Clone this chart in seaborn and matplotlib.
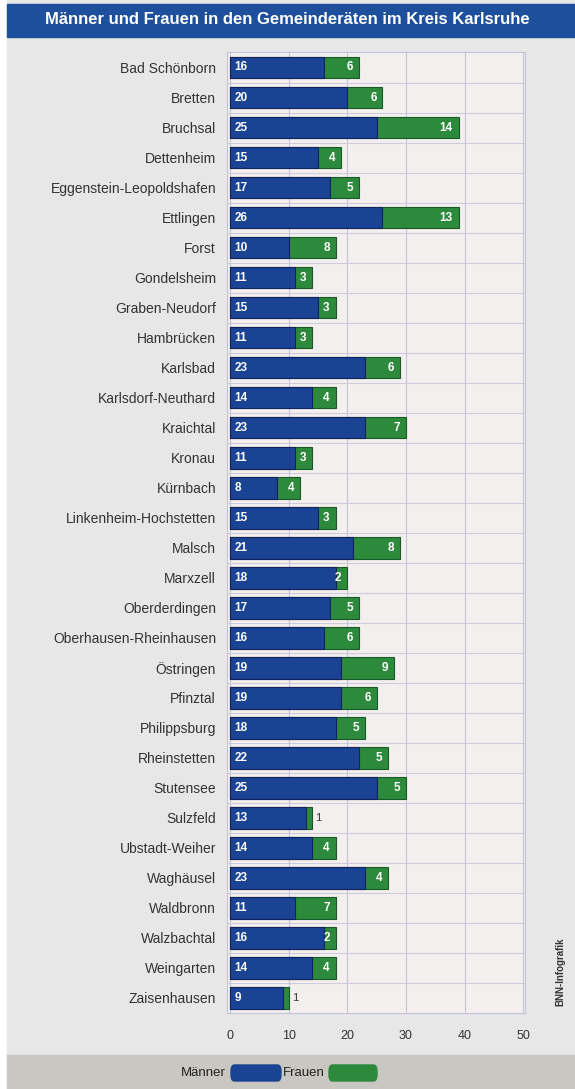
import pandas as pd
import seaborn as sns
import matplotlib.pyplot as plt
from matplotlib.patches import Rectangle, FancyBboxPatch

# data
gemeinden = ["Bad Schönborn", "Bretten", "Bruchsal", "Dettenheim", "Eggenstein-Leopoldshafen",
             "Ettlingen", "Forst", "Gondelsheim", "Graben-Neudorf", "Hambrücken", "Karlsbad",
             "Karlsdorf-Neuthard", "Kraichtal", "Kronau", "Kürnbach", "Linkenheim-Hochstetten",
             "Malsch", "Marxzell", "Oberderdingen", "Oberhausen-Rheinhausen", "Östringen",
             "Pfinztal", "Philippsburg", "Rheinstetten", "Stutensee", "Sulzfeld",
             "Ubstadt-Weiher", "Waghäusel", "Waldbronn", "Walzbachtal", "Weingarten", "Zaisenhausen"]
maenner = [16, 20, 25, 15, 17, 26, 10, 11, 15, 11, 23, 14, 23, 11, 8, 15,
           21, 18, 17, 16, 19, 19, 18, 22, 25, 13, 14, 23, 11, 16, 14, 9]
frauen = [6, 6, 14, 4, 5, 13, 8, 3, 3, 3, 6, 4, 7, 3, 4, 3,
          8, 2, 5, 6, 9, 6, 5, 5, 5, 1, 4, 4, 7, 2, 4, 1]
x_ticks = [0, 10, 20, 30, 40, 50]

df = pd.DataFrame({"Gemeinde": gemeinden, "Männer": maenner, "Frauen": frauen})
df["Gesamt"] = df["Männer"] + df["Frauen"]

blau = "#1b4393"
gruen = "#2d8a3c"

sns.set_style("white")
plt.rcParams["font.family"] = ["Liberation Sans Narrow", "Liberation Sans", "DejaVu Sans"]

fig = plt.figure(figsize=(5.75, 10.89), dpi=100, facecolor="white")
# background panels
fig.patches.append(Rectangle((7/575, 0), 1, 1, transform=fig.transFigure, color="#e7e7e7", zorder=-10))
fig.patches.append(Rectangle((7/575, 1 - 37/1089), 1, 33/1089, transform=fig.transFigure,
                             color="#1d4f9c", zorder=-5))
fig.patches.append(Rectangle((7/575, 0), 1, 34/1089, transform=fig.transFigure,
                             color="#c9c7c1", zorder=-5))
fig.text(0.5, 1 - 20/1089, "Männer und Frauen in den Gemeinderäten im Kreis Karlsruhe",
         color="white", fontsize=12, fontweight="bold", ha="center", va="center")

ax = fig.add_axes([0.395, 0.0698, 0.518, 0.882])
ax.set_facecolor("#f4efef")

sns.barplot(data=df, y="Gemeinde", x="Gesamt", color=gruen, saturation=1,
            width=0.72, orient="h", ax=ax, zorder=3)
sns.barplot(data=df, y="Gemeinde", x="Männer", color=blau, saturation=1,
            width=0.72, orient="h", ax=ax, zorder=4)
for p in ax.patches:
    p.set_edgecolor("#12225f" if p.get_facecolor()[2] > 0.4 else "#175a25")
    p.set_linewidth(0.8)

for i, row in df.iterrows():
    ax.text(0.8, i, str(row["Männer"]), color="white", fontsize=8.5, fontweight="bold",
            va="center", ha="left", zorder=6)
    if row["Frauen"] > 1:
        ax.text(row["Gesamt"] - 1.0, i, str(row["Frauen"]), color="white", fontsize=8.5,
                fontweight="bold", va="center", ha="right", zorder=6)
    else:
        ax.text(row["Gesamt"] + 0.5, i, str(row["Frauen"]), color="#333333", fontsize=8,
                va="center", ha="left", zorder=6)

ax.set_xlim(-0.5, 50.3)
ax.set_ylim(len(df) - 0.5, -0.5)
ax.set_xticks(x_ticks)
ax.set_xticklabels([str(t) for t in x_ticks], fontsize=9, color="#333333")
ax.set_yticks(range(len(df)))
ax.set_yticklabels(gemeinden, fontsize=10, color="#333333")
ax.set_yticks([i + 0.5 for i in range(len(df) - 1)], minor=True)
ax.tick_params(axis="both", length=0, pad=8)
ax.tick_params(axis="x", pad=12)
ax.grid(axis="y", which="minor", color="#cfcbdc", linewidth=0.8, zorder=0)
ax.grid(axis="x", which="major", color="#c4c2d6", linewidth=0.8, zorder=0)
ax.set_axisbelow(True)
ax.set_xlabel("")
ax.set_ylabel("")
for s in ax.spines.values():
    s.set_color("#c4c2d6")
    s.set_linewidth(0.8)

# legend at the bottom band
fig.text(226/575, 1 - 1073/1089, "Männer", fontsize=9.5, color="#222222", ha="right", va="center")
fig.patches.append(FancyBboxPatch((231/575, 1 - 1081/1089), 50/575, 16/1089,
                                  boxstyle="round,pad=0.0,rounding_size=0.006",
                                  transform=fig.transFigure, color=blau, zorder=5))
fig.text(325/575, 1 - 1073/1089, "Frauen", fontsize=9.5, color="#222222", ha="right", va="center")
fig.patches.append(FancyBboxPatch((329/575, 1 - 1081/1089), 48/575, 16/1089,
                                  boxstyle="round,pad=0.0,rounding_size=0.006",
                                  transform=fig.transFigure, color=gruen, zorder=5))
fig.text(560/575, 1 - 972/1089, "BNN-Infografik", fontsize=7, fontweight="bold",
         color="#333333", rotation=90, ha="center", va="center")

fig.savefig("out.png", dpi=100, facecolor=fig.get_facecolor())
